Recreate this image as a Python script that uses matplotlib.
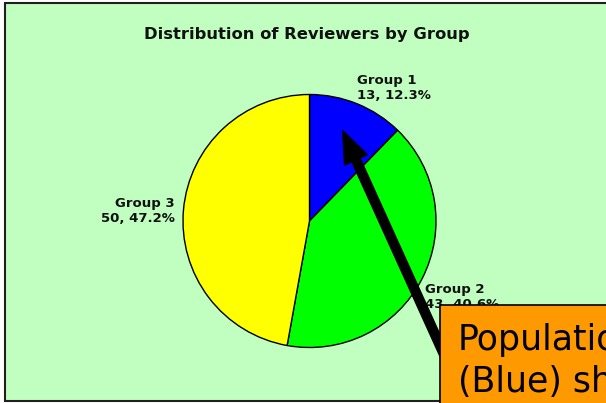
import matplotlib
matplotlib.use("Agg")
import matplotlib.pyplot as plt
from matplotlib.patches import Rectangle, FancyArrow

title = "Distribution of Reviewers by Group"
groups = ["Group 1", "Group 2", "Group 3"]
counts = [13, 43, 50]
percents = ["12.3%", "40.6%", "47.2%"]
colors = ["#0000FF", "#00FF00", "#FFFF00"]
callout_lines = ["Population", "(Blue) sh"]

W, H = 606, 403
fig = plt.figure(figsize=(W / 100, H / 100), dpi=100)
fig.patch.set_facecolor("white")
ax = fig.add_axes([0, 0, 1, 1])

def Y(py):
    return H - py

ax.pie(counts, colors=colors, startangle=90, counterclock=False,
       center=(309.5, Y(221)), radius=126.5, frame=True,
       wedgeprops=dict(edgecolor="black", linewidth=1.0, zorder=1))
ax.set_xlim(0, W)
ax.set_ylim(0, H)
ax.set_aspect("equal")
ax.axis("off")

# chart area background with border
ax.add_patch(Rectangle((5, Y(401)), 620, 398, facecolor="#C0FFC0",
                       edgecolor="#202020", linewidth=1.5, zorder=0))

ax.text(307, Y(34), title, ha="center", va="center", fontsize=11.8,
        fontweight="bold", color="#111111", zorder=2)

lab_kw = dict(fontsize=9.5, fontweight="bold", color="#111111", va="center",
              linespacing=1.2, zorder=3)
ax.text(357, Y(88), f"{groups[0]}\n{counts[0]}, {percents[0]}", ha="left", **lab_kw)
ax.text(425, Y(297), f"{groups[1]}\n{counts[1]}, {percents[1]}", ha="left", **lab_kw)
ax.text(175, Y(211), f"{groups[2]}\n{counts[2]}, {percents[2]}", ha="right", **lab_kw)

# arrow
tail = (452, Y(372))
tip = (342.7, Y(130.7))
ax.add_patch(FancyArrow(tail[0], tail[1], tip[0] - tail[0], tip[1] - tail[1],
                        width=9, head_width=25, head_length=32,
                        length_includes_head=True, color="black", zorder=4))

# callout box
ax.add_patch(Rectangle((440, Y(420)), 200, 420 - 305, facecolor="#FF9900",
                       edgecolor="black", linewidth=1.2, zorder=5))
ax.text(458, Y(340), callout_lines[0], fontsize=25, ha="left", va="center",
        color="black", zorder=6)
ax.text(458, Y(382), callout_lines[1], fontsize=25, ha="left", va="center",
        color="black", zorder=6)

fig.savefig("out.png", dpi=100)
